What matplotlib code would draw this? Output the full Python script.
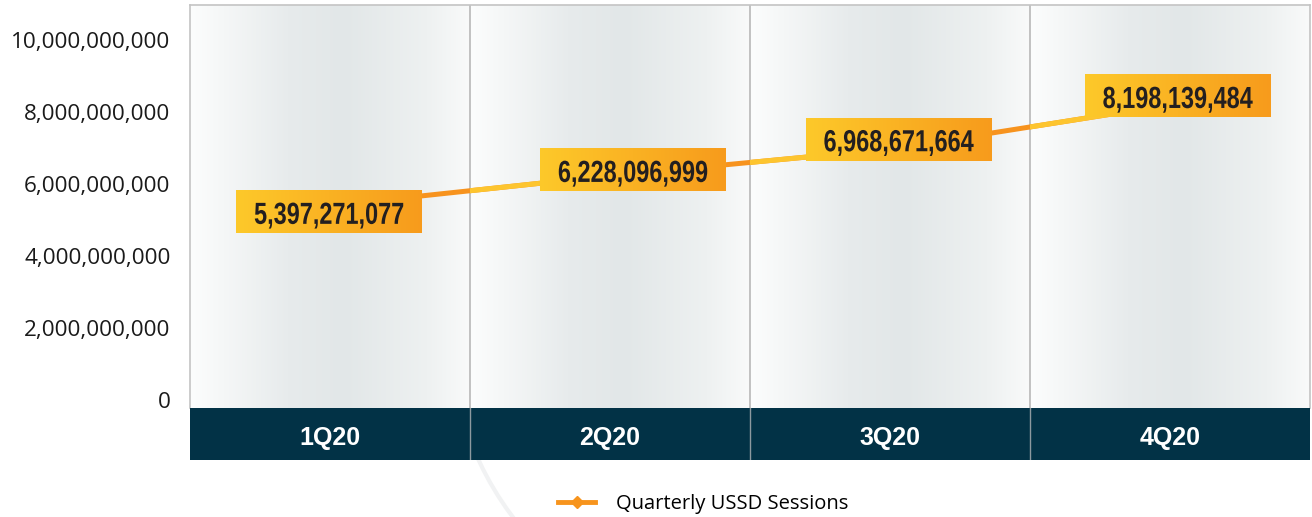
import matplotlib.pyplot as plt
import numpy as np
from matplotlib.colors import LinearSegmentedColormap
from matplotlib.lines import Line2D
from matplotlib.patches import Arc, Rectangle, PathPatch
from matplotlib.textpath import TextPath
from matplotlib.font_manager import FontProperties
from matplotlib.transforms import Affine2D, ScaledTranslation

quarters = ['1Q20', '2Q20', '3Q20', '4Q20']
sessions = [5397271077, 6228096999, 6968671664, 8198139484]
yticks = [0, 2e9, 4e9, 6e9, 8e9, 10e9]

# pixel nudges of the value boxes, as placed in the original slide
box_nudge = [(-1, -6), (23, 6), (9, 10), (8, 9)]

fig = plt.figure(figsize=(13.12, 5.17), dpi=100)

# faint decorative arcs in the background
bg = fig.add_axes([0, 0, 1, 1], zorder=-5)
bg.set_xlim(0, 1312)
bg.set_ylim(517, 0)
bg.axis('off')
for r in [330, 345]:
    bg.add_patch(Arc((0, 720), 2 * r + 380, 2 * r, theta1=20, theta2=90,
                     color='#f3f4f5', lw=2))
bg.add_patch(Arc((760, 330), 620, 620, theta1=90, theta2=270, color='#f1f2f3', lw=3))

ax = fig.add_axes([190 / 1312, 1 - 408 / 517, 1120 / 1312, 403 / 517])
band = fig.add_axes([190 / 1312, 1 - 460 / 517, 1120 / 1312, 52 / 517])

ylo, yhi = -0.22e9, 10.97e9
n = len(quarters)
ax.set_xlim(-0.5, n - 0.5)
ax.set_ylim(ylo, yhi)

# panel backgrounds with soft horizontal gradient
panel_cmap = LinearSegmentedColormap.from_list(
    'panel', [(0, '#fcfdfd'), (0.12, '#f5f7f7'), (0.35, '#e7ebec'), (0.55, '#e2e7e8'),
              (0.85, '#eef1f1'), (1, '#f9fafa')])
grad = np.linspace(0, 1, 256).reshape(1, -1)
for i in range(n):
    ax.imshow(grad, cmap=panel_cmap, aspect='auto', extent=(i - 0.5, i + 0.5, ylo, yhi),
              zorder=0, interpolation='bicubic')
    if i > 0:
        ax.axvline(i - 0.5, color='#bdbdbd', lw=1.3, zorder=1)

for s in ax.spines.values():
    s.set_color('#c4c4c4')
    s.set_linewidth(1.2)
ax.spines['bottom'].set_visible(False)

# line: orange where a segment leaves a point, yellow where it arrives
x = np.arange(n)
ax.plot(x, sessions, color='#f7931e', lw=3.6, solid_capstyle='butt', zorder=2)
for i in range(1, n):
    yl, = ax.plot(x, sessions, color='#fdc52f', lw=3.6, solid_capstyle='butt', zorder=2.1)
    clip = Rectangle((i - 0.5, ylo), 0.5, yhi - ylo, transform=ax.transData)
    yl.set_clip_path(clip)

ax.set_xticks([])
ax.set_yticks(yticks)
ax.set_yticklabels([f'{int(t):,}' for t in yticks], fontsize=16.2,
                   family='Open Sans', color='#1a1a1a')
ax.tick_params(axis='y', length=0, pad=14)

# value boxes with yellow-to-orange gradient and condensed bold numbers
box_cmap = LinearSegmentedColormap.from_list('box', ['#fdc92a', '#f79b1c'])
fp = FontProperties(family='Liberation Sans', weight='bold')
digit_h = TextPath((0, 0), '0', size=30.5, prop=fp).get_extents().y1
fig.canvas.draw()
inv = ax.transData.inverted()
for xi, v, (dx, dy) in zip(x, sessions, box_nudge):
    px, py = ax.transData.transform((xi, v))
    px, py = px + dx, py + dy
    x0, y0 = inv.transform((px - 93, py - 21.5))
    x1, y1 = inv.transform((px + 93, py + 21.5))
    ax.imshow(grad, cmap=box_cmap, aspect='auto', extent=(x0, x1, y0, y1), zorder=3)
    tp = TextPath((0, 0), f'{v:,}', size=30.5, prop=fp)
    bb = tp.get_extents()
    tr = (Affine2D().translate(-(bb.x0 + bb.x1) / 2, -digit_h / 2).scale(0.77, 1)
          .translate(dx, dy - 1.5) + ScaledTranslation(xi, v, ax.transData))
    ax.add_patch(PathPatch(tp, transform=tr, facecolor='#231f20', edgecolor='none', zorder=4))

ax.set_xlim(-0.5, n - 0.5)
ax.set_ylim(ylo, yhi)

# dark category band
band.set_xlim(-0.5, n - 0.5)
band.set_ylim(0, 1)
band.set_facecolor('#023246')
for s in band.spines.values():
    s.set_visible(False)
band.set_xticks([])
band.set_yticks([])
for i, q in enumerate(quarters):
    band.text(i, 0.43, q, ha='center', va='center', color='white', fontsize=18,
              fontweight='bold', family='Liberation Sans')
    if i > 0:
        band.axvline(i - 0.5, color='#8d999f', lw=1)

handle = Line2D([], [], color='#f7941d', lw=3.5, marker='D', markersize=6)
fig.legend([handle], ['Quarterly USSD Sessions'], loc='center',
           bbox_to_anchor=(703 / 1312, 1 - 504 / 517), frameon=False,
           prop={'family': 'Open Sans', 'size': 14.5}, handlelength=1.85,
           handletextpad=1.0)

plt.savefig('out.png', dpi=100)
